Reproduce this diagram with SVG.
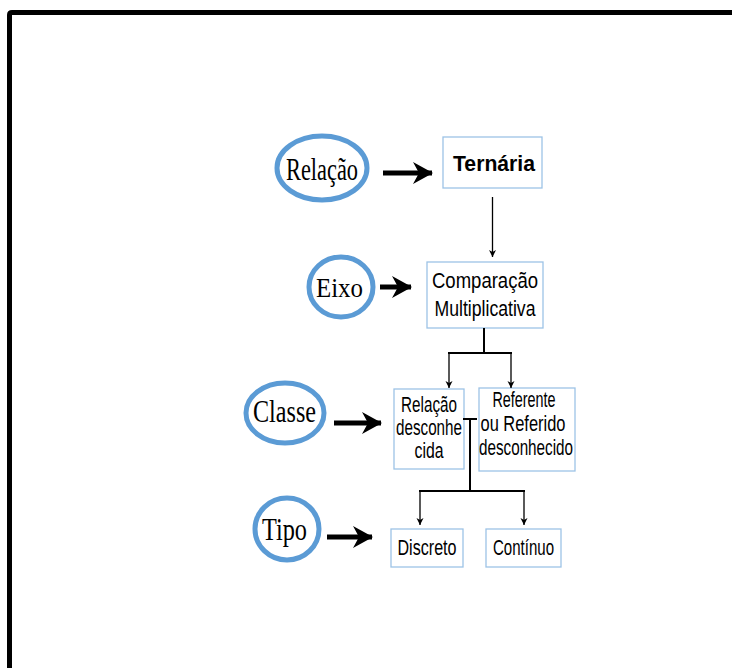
<svg xmlns="http://www.w3.org/2000/svg" width="732" height="668" viewBox="0 0 732 668">
<style>
.oval{fill:#fff;stroke:#5b9bd5;stroke-width:5}
.box{fill:#fff;stroke:#9dc3e6;stroke-width:1.3}
.ot{font-family:"Liberation Serif","Times New Roman",serif;fill:#000}
.bt{font-family:"Liberation Sans",Arial,sans-serif;fill:#000;font-size:22px;text-anchor:middle}
.thick{stroke:#000;stroke-width:5;fill:none}
.thin{stroke:#000;stroke-width:1.3;fill:none}
.tc{stroke:#000;stroke-width:2;fill:none}
</style>
<defs>
<marker id="big" viewBox="0 0 20 22" refX="19" refY="11" markerWidth="20" markerHeight="22" markerUnits="userSpaceOnUse" orient="auto">
<path d="M0,0 L20,11 L0,22 L6,11 z" fill="#000"/>
</marker>
<marker id="small" viewBox="0 0 10 10" refX="10" refY="5" markerWidth="7" markerHeight="9" markerUnits="userSpaceOnUse" orient="auto">
<path d="M0,0 L10,5 L0,10 L3,5 z" fill="#000"/>
</marker>
</defs>
<rect width="732" height="668" fill="#fff"/>
<path d="M9.5,680 V15 Q9.5,12.5 12,12.5 H745" fill="none" stroke="#000" stroke-width="5"/>

<g id="n-relacao">
<ellipse class="oval" cx="322" cy="168" rx="45" ry="32"/>
<text class="ot" x="286" y="180" font-size="31" textLength="72" lengthAdjust="spacingAndGlyphs">Relação</text>
</g>
<g id="n-ternaria">
<rect class="box" x="443" y="137" width="99" height="51"/>
<text class="bt" x="494" y="171" font-size="28" font-weight="bold" textLength="82" lengthAdjust="spacingAndGlyphs">Ternária</text>
</g>
<g id="n-eixo">
<ellipse class="oval" cx="341" cy="287" rx="32" ry="30"/>
<text class="ot" x="316" y="297" font-size="28" textLength="47" lengthAdjust="spacingAndGlyphs">Eixo</text>
</g>
<g id="n-comparacao">
<rect class="box" x="427" y="262" width="116" height="66"/>
<text class="bt" x="485" y="288" font-size="25" textLength="106" lengthAdjust="spacingAndGlyphs">Comparação</text>
<text class="bt" x="485" y="316" font-size="25" textLength="101" lengthAdjust="spacingAndGlyphs">Multiplicativa</text>
</g>
<g id="n-classe">
<ellipse class="oval" cx="285" cy="413" rx="39" ry="30"/>
<text class="ot" x="253" y="422" font-size="31" textLength="63" lengthAdjust="spacingAndGlyphs">Classe</text>
</g>
<g id="n-relacao-desc">
<rect class="box" x="394" y="389" width="70" height="80"/>
<text class="bt" x="429" y="412" textLength="56" lengthAdjust="spacingAndGlyphs">Relação</text>
<text class="bt" x="429" y="435" textLength="66" lengthAdjust="spacingAndGlyphs">desconhe</text>
<text class="bt" x="429" y="458" textLength="29" lengthAdjust="spacingAndGlyphs">cida</text>
</g>
<g id="n-referente">
<rect class="box" x="479" y="388" width="96" height="83"/>
<text class="bt" x="524" y="407" textLength="63" lengthAdjust="spacingAndGlyphs">Referente</text>
<text class="bt" x="523" y="431" textLength="85" lengthAdjust="spacingAndGlyphs">ou Referido</text>
<text class="bt" x="526" y="455" textLength="94" lengthAdjust="spacingAndGlyphs">desconhecido</text>
</g>
<g id="n-tipo">
<ellipse class="oval" cx="287" cy="529" rx="32" ry="31"/>
<text class="ot" x="262" y="540" font-size="31" textLength="45" lengthAdjust="spacingAndGlyphs">Tipo</text>
</g>
<g id="n-discreto">
<rect class="box" x="391" y="529" width="72" height="38"/>
<text class="bt" x="427" y="555" textLength="59" lengthAdjust="spacingAndGlyphs">Discreto</text>
</g>
<g id="n-continuo">
<rect class="box" x="486" y="529" width="75" height="38"/>
<text class="bt" x="523.5" y="555" textLength="61" lengthAdjust="spacingAndGlyphs">Contínuo</text>
</g>

<g id="connectors">
<line class="thick" x1="383" y1="173" x2="432" y2="173" marker-end="url(#big)"/>
<line class="thick" x1="380" y1="287" x2="411" y2="287" marker-end="url(#big)"/>
<line class="thick" x1="334" y1="423" x2="381" y2="423" marker-end="url(#big)"/>
<line class="thick" x1="327" y1="537" x2="372" y2="537" marker-end="url(#big)"/>
<line class="thin" x1="492.5" y1="197" x2="492.5" y2="257" marker-end="url(#small)"/>
<path class="tc" d="M484,328 V353 M448,353 H512"/>
<line class="thin" x1="449" y1="352" x2="449" y2="388" marker-end="url(#small)"/>
<line class="thin" x1="511" y1="352" x2="511" y2="388" marker-end="url(#small)"/>
<path class="tc" d="M463,419 H477 M470,419 V491 M419,491 H525"/>
<line class="thin" x1="420" y1="490" x2="420" y2="525" marker-end="url(#small)"/>
<line class="thin" x1="524" y1="490" x2="524" y2="525" marker-end="url(#small)"/>
</g>
</svg>
